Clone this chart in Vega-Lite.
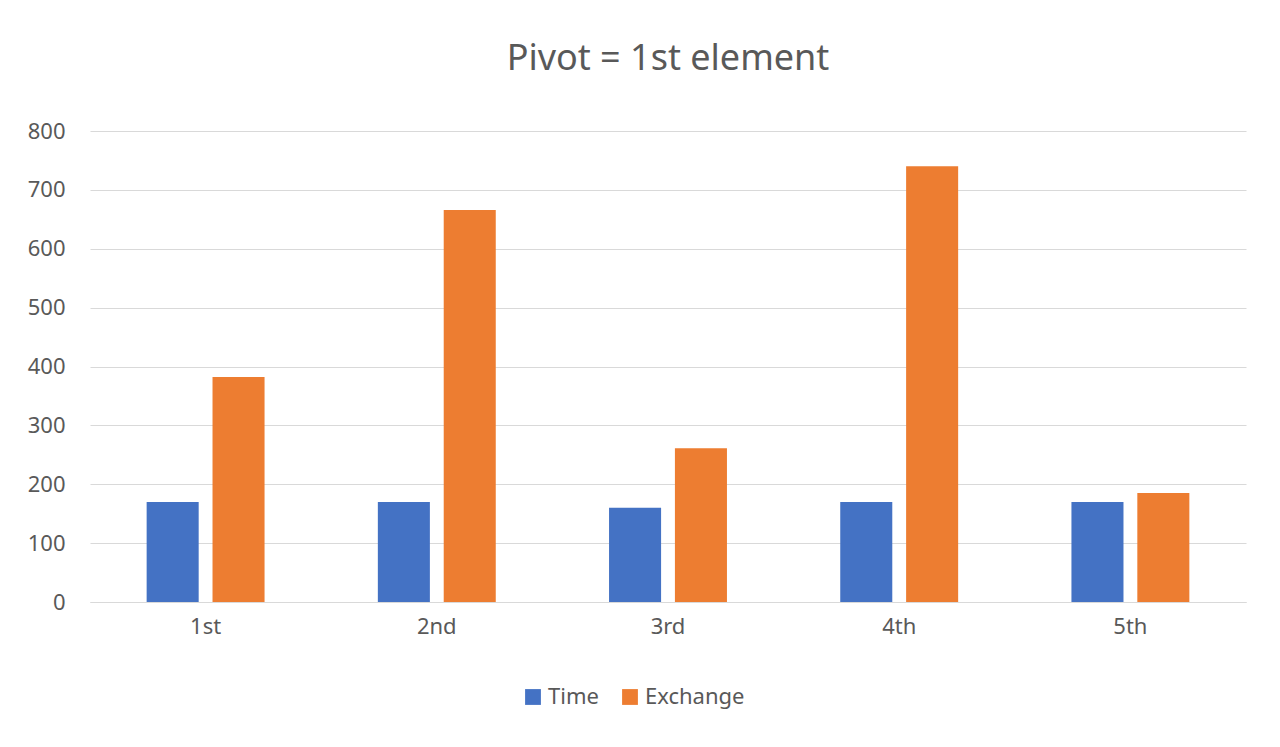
{
"$schema":"https://vega.github.io/schema/vega-lite/v6.json",
"autosize":{"type":"none"},
"width":1156,"height":471,
"padding":{"left":90,"top":131,"right":34,"bottom":145},
"background":"white",
"title":{"text":"Pivot = 1st element","fontSize":36,"font":"Noto Sans","fontWeight":"normal","color":"#595959","offset":42},
"data":{"values":[
{"c":"1st","s":"Time","v":170},{"c":"1st","s":"Exchange","v":382},
{"c":"2nd","s":"Time","v":170},{"c":"2nd","s":"Exchange","v":666},
{"c":"3rd","s":"Time","v":160},{"c":"3rd","s":"Exchange","v":261},
{"c":"4th","s":"Time","v":170},{"c":"4th","s":"Exchange","v":740},
{"c":"5th","s":"Time","v":170},{"c":"5th","s":"Exchange","v":185}
]},
"mark":"bar",
"encoding":{
"x":{"field":"c","type":"nominal","title":null,"scale":{"paddingInner":0.49,"paddingOuter":0.245},
 "axis":{"labelAngle":0,"labelFontSize":22,"labelColor":"#595959","labelFont":"Noto Sans","domainColor":"#d9d9d9","ticks":false,"labelPadding":14}},
"xOffset":{"field":"s","type":"nominal","sort":["Time","Exchange"],"scale":{"paddingInner":0.21}},
"y":{"field":"v","type":"quantitative","title":null,"scale":{"domain":[0,800]},
 "axis":{"tickCount":8,"labelFontSize":22,"labelColor":"#595959","labelFont":"Noto Sans","domain":false,"ticks":false,"gridColor":"#d9d9d9","labelPadding":25}},
"color":{"field":"s","type":"nominal","sort":["Time","Exchange"],"scale":{"domain":["Time","Exchange"],"range":["#4472C4","#ED7D31"]},
 "legend":{"title":null,"orient":"none","legendX":432,"legendY":555,"direction":"horizontal","symbolType":"square","symbolSize":250,"labelFontSize":22,"labelColor":"#595959","labelFont":"Noto Sans","columnPadding":20}}
},
"config":{"view":{"stroke":null}}
}
